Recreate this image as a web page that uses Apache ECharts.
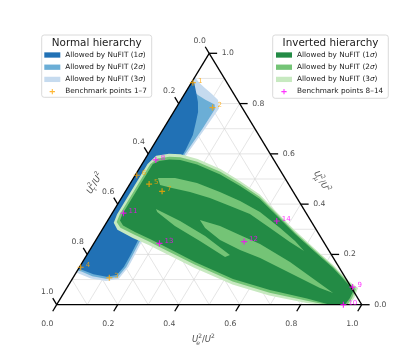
<!DOCTYPE html>
<html>
<head>
<meta charset="utf-8">
<script src="https://cdn.jsdelivr.net/npm/echarts@6/dist/echarts.min.js"></script>
<style>
  html, body { margin: 0; padding: 0; background: #fff; }
  #chart { width: 408px; height: 349px; }
</style>
</head>
<body>
<div id="chart"></div>
<script>
// every pair is [Ue^2/U^2, Umu^2/U^2]; Utau^2/U^2 is what is left
const NH_3SIGMA = [[0,0.905],[0.03,0.88],[0.055,0.862],[0.09,0.838],[0.122,0.814],[0.142,0.78],[0.136,0.7],[0.128,0.6],[0.132,0.5],[0.14,0.4],[0.15,0.3],[0.157,0.2],[0.16,0.15],[0.152,0.103],[0.115,0.094],[0.06,0.104],[0.015,0.122],[0,0.128]];
const NH_2SIGMA = [[0,0.89],[0.03,0.845],[0.046,0.834],[0.08,0.815],[0.12,0.796],[0.13,0.776],[0.128,0.7],[0.121,0.6],[0.125,0.5],[0.133,0.4],[0.143,0.3],[0.15,0.2],[0.153,0.15],[0.145,0.11],[0.11,0.103],[0.06,0.113],[0.015,0.132],[0,0.136]];
const NH_1SIGMA = [[0,0.89],[0.008,0.885],[0.034,0.846],[0.06,0.806],[0.08,0.767],[0.093,0.727],[0.109,0.675],[0.115,0.615],[0.118,0.5],[0.125,0.4],[0.135,0.3],[0.143,0.2],[0.145,0.15],[0.138,0.118],[0.108,0.111],[0.06,0.121],[0.018,0.137],[0,0.142]];

const IH_3SIGMA = [[0.018,0.56],[0.03,0.592],[0.068,0.6],[0.107,0.598],[0.172,0.58],[0.267,0.54],[0.355,0.492],[0.447,0.438],[0.538,0.368],[0.634,0.295],[0.735,0.223],[0.826,0.159],[0.91,0.094],[0.955,0.066],[0.962,0.027],[0.96,0],[0.87,0],[0.816,0.007],[0.678,0.037],[0.536,0.08],[0.377,0.147],[0.227,0.217],[0.183,0.237],[0.117,0.265],[0.05,0.298],[0.024,0.326],[0.018,0.36]];
const IH_2SIGMA = [[0.027,0.56],[0.04,0.582],[0.075,0.589],[0.112,0.587],[0.176,0.569],[0.272,0.529],[0.36,0.482],[0.451,0.429],[0.542,0.361],[0.637,0.288],[0.738,0.217],[0.829,0.153],[0.912,0.088],[0.95,0.062],[0.955,0.027],[0.953,0],[0.885,0],[0.812,0.016],[0.674,0.048],[0.531,0.092],[0.372,0.16],[0.222,0.23],[0.179,0.25],[0.114,0.279],[0.056,0.306],[0.032,0.329],[0.027,0.36]];
const IH_1SIGMA = [[0.035,0.56],[0.05,0.572],[0.08,0.578],[0.117,0.576],[0.181,0.558],[0.277,0.518],[0.365,0.472],[0.456,0.42],[0.546,0.353],[0.641,0.281],[0.742,0.21],[0.832,0.147],[0.914,0.082],[0.945,0.058],[0.948,0.027],[0.945,0],[0.896,0],[0.808,0.025],[0.67,0.058],[0.527,0.102],[0.368,0.17],[0.218,0.241],[0.175,0.261],[0.112,0.289],[0.06,0.315],[0.04,0.335],[0.035,0.36]];
// strips inside the inverted region that are only allowed at 2 sigma
const IH_GAP_UPPER = [[0.08,0.504],[0.136,0.504],[0.218,0.484],[0.311,0.448],[0.395,0.4125],[0.482,0.369],[0.58,0.305],[0.655,0.253],[0.704,0.214],[0.64,0.249],[0.547,0.305],[0.453,0.361],[0.372,0.393],[0.29,0.4245],[0.213,0.448],[0.146,0.464],[0.101,0.476]];
const IH_GAP_LOWER = [[0.301,0.337],[0.379,0.313],[0.462,0.277],[0.546,0.2415],[0.68,0.17],[0.798,0.098],[0.883,0.0465],[0.83,0.066],[0.702,0.126],[0.574,0.186],[0.492,0.218],[0.407,0.257],[0.334,0.305]];
const IH_GAP_THIN = [[0.135,0.381],[0.238,0.333],[0.35,0.273],[0.469,0.198],[0.457,0.19],[0.343,0.253],[0.231,0.313],[0.145,0.369]];

const NH_POINTS = [[0.005,0.883],[0.119,0.784],[0.119,0.107],[0.004,0.149],[0.063,0.48],[0.005,0.515],[0.12,0.451]];
const NH_POINT_LABELS = ['1','2','3','4','5','6','7'];
const IH_POINTS = [[0.037,0.576],[0.935,0.07],[0.94,0],[0.037,0.364],[0.489,0.251],[0.215,0.244],[0.555,0.333]];
const IH_POINT_LABELS = ['8','9','10','11','12','13','14'];

const GRID_STEPS = [0.1,0.2,0.3,0.4,0.5,0.6,0.7,0.8,0.9];
const TICKS = [0,0.2,0.4,0.6,0.8,1];
const TICK_LABELS = ['0.0','0.2','0.4','0.6','0.8','1.0'];

const FONT = 'DejaVu Sans';
const INK = '#1a1a1a';

// ternary -> cartesian position on the hidden grid
function tern(e, mu) { return [e + mu / 2, mu]; }

function area(name, poly, color) {
  return {
    name: name, type: 'custom', clip: false, silent: true,
    itemStyle: { color: color },
    data: [[0, 0]],
    renderItem: function (params, api) {
      return {
        type: 'polygon',
        shape: { points: poly.map(p => api.coord(tern(p[0], p[1]))) },
        style: { fill: color }
      };
    }
  };
}

function segments(segs, color, width, dash) {
  return {
    type: 'custom', clip: false, silent: true, data: segs,
    renderItem: function (params, api) {
      const a = api.coord(tern(api.value(0), api.value(1)));
      const b = api.coord(tern(api.value(2), api.value(3)));
      return {
        type: 'line',
        shape: { x1: a[0], y1: a[1], x2: b[0], y2: b[1] },
        style: { stroke: color, lineWidth: width, lineDash: dash || null }
      };
    }
  };
}

function points(name, pts, labels, color) {
  return {
    name: name, type: 'scatter', clip: false, silent: true,
    symbol: 'path://M4,0H6V4H10V6H6V10H4V6H0V4H4Z', symbolSize: 6,
    itemStyle: { color: color },
    data: pts.map((p, i) => ({ name: labels[i], value: tern(p[0], p[1]) })),
    label: {
      show: true, position: 'right', distance: 2, offset: [0, -2],
      formatter: '{b}', color: color, fontSize: 7, fontFamily: FONT
    }
  };
}

const gridSegs = [];
GRID_STEPS.forEach(v => {
  gridSegs.push([v, 0, v, 1 - v]);
  gridSegs.push([0, v, 1 - v, v]);
  gridSegs.push([1 - v, 0, 0, 1 - v]);
});

const edgeSegs = [[0, 0, 1, 0], [1, 0, 0, 1], [0, 1, 0, 0]];
const TICK_LEN = 0.026;
const tickSegs = [];
TICKS.forEach(v => {
  tickSegs.push([v, 0, v, -TICK_LEN]);
  tickSegs.push([1 - v, v, 1 - v + TICK_LEN, v]);
  tickSegs.push([0, 1 - v, -TICK_LEN, 1 - v + TICK_LEN]);
});

const tickLabelData = [];
TICKS.forEach((v, i) => {
  tickLabelData.push({ name: TICK_LABELS[i], value: tern(v + 0.008, -0.078) });
  tickLabelData.push({ name: TICK_LABELS[i], value: tern(1 - v + 0.061, v) });
  tickLabelData.push({ name: TICK_LABELS[i], value: tern(-0.0556, 1 - v + 0.049) });
});

const titleRich = {
  u: { fontSize: 8.5, fontStyle: 'italic', fontFamily: FONT, color: INK, lineHeight: 13 },
  n: { fontSize: 8.5, fontFamily: FONT, color: INK, lineHeight: 13 },
  sb: { fontSize: 6, fontStyle: 'italic', fontFamily: FONT, color: INK, verticalAlign: 'bottom', width: 0 },
  sp: { fontSize: 6, fontFamily: FONT, color: INK, verticalAlign: 'top' }
};
function axisTitle(sub, pos, rotate) {
  return {
    value: tern(pos[0], pos[1]),
    label: { formatter: '{u|U}{sb|' + sub + '}{sp|2}{n|/}{u|U}{sp|2}', rotate: rotate }
  };
}

const legendRich = {
  t: { fontSize: 7.3, fontFamily: FONT, color: INK },
  s: { fontSize: 7.3, fontFamily: FONT, fontStyle: 'italic', color: INK }
};
const LEGEND_TEXT = {
  NH1: '{t|Allowed by NuFIT (1}{s|σ}{t|)}', NH2: '{t|Allowed by NuFIT (2}{s|σ}{t|)}',
  NH3: '{t|Allowed by NuFIT (3}{s|σ}{t|)}', NHP: '{t|Benchmark points 1–7}',
  IH1: '{t|Allowed by NuFIT (1}{s|σ}{t|)}', IH2: '{t|Allowed by NuFIT (2}{s|σ}{t|)}',
  IH3: '{t|Allowed by NuFIT (3}{s|σ}{t|)}', IHP: '{t|Benchmark points 8–14}'
};
const PLUS = 'path://M4,0H6V4H10V6H6V10H4V6H0V4H4Z';
function legend(left, names) {
  return {
    orient: 'vertical', left: left, top: 50, padding: 0,
    itemWidth: 16, itemHeight: 5.3, itemGap: 2.2, selectedMode: false,
    symbolKeepAspect: true,
    data: names.map((n, i) => ({ name: n, icon: i === 3 ? PLUS : 'rect' })),
    formatter: n => LEGEND_TEXT[n],
    textStyle: { fontSize: 7.3, fontFamily: FONT, color: INK, lineHeight: 10, rich: legendRich }
  };
}

const chart = echarts.init(document.getElementById('chart'));
chart.setOption({
  animation: false,
  grid: { left: 56.7, right: 46.3, top: 53.3, bottom: 44.3, outerBoundsMode: 'none' },
  xAxis: { type: 'value', min: 0, max: 1, show: false },
  yAxis: { type: 'value', min: 0, max: 1, show: false },
  legend: [
    legend(44.3, ['NH1', 'NH2', 'NH3', 'NHP']),
    legend(276, ['IH1', 'IH2', 'IH3', 'IHP'])
  ],
  graphic: [
    { type: 'rect', z: 0, shape: { x: 41.7, y: 35, width: 110, height: 62.3, r: 2.5 },
      style: { fill: 'rgba(255,255,255,0.8)', stroke: '#d0d0d0', lineWidth: 0.8 } },
    { type: 'rect', z: 0, shape: { x: 272.7, y: 35, width: 115.6, height: 63.3, r: 2.5 },
      style: { fill: 'rgba(255,255,255,0.8)', stroke: '#d0d0d0', lineWidth: 0.8 } },
    { type: 'text', z: 10, x: 96.7, y: 43.3,
      style: { text: 'Normal hierarchy', fontSize: 10.4, fontFamily: FONT, fill: INK, align: 'center', verticalAlign: 'middle' } },
    { type: 'text', z: 10, x: 330.5, y: 43.3,
      style: { text: 'Inverted hierarchy', fontSize: 10.4, fontFamily: FONT, fill: INK, align: 'center', verticalAlign: 'middle' } }
  ],
  series: [
    segments(gridSegs, '#d4d4d4', 0.6),
    area('NH3', NH_3SIGMA, '#c6dbef'),
    area('NH2', NH_2SIGMA, '#6baed6'),
    area('NH1', NH_1SIGMA, '#2171b5'),
    area('IH3', IH_3SIGMA, '#c7e9c0'),
    area('IH2', IH_2SIGMA, '#74c476'),
    area('IH1', IH_1SIGMA, '#238b45'),
    area('IHgap1', IH_GAP_UPPER, '#74c476'),
    area('IHgap2', IH_GAP_LOWER, '#74c476'),
    area('IHgap3', IH_GAP_THIN, '#74c476'),
    segments(edgeSegs, '#000', 1.3),
    segments(tickSegs, '#000', 1.3),
    {
      type: 'scatter', clip: false, silent: true, symbolSize: 0,
      data: tickLabelData,
      label: { show: true, position: [0, 0], align: 'center', verticalAlign: 'middle',
        formatter: '{b}', fontSize: 7.7, fontFamily: FONT, color: INK }
    },
    {
      type: 'scatter', clip: false, silent: true, symbolSize: 0,
      data: [
        axisTitle('e', [0.551, -0.14], 0),
        axisTitle('μ', [0.624, 0.489], -58.8),
        axisTitle('τ', [-0.116, 0.483], 58.8)
      ],
      label: { show: true, position: [0, 0], align: 'center', verticalAlign: 'middle', rich: titleRich }
    },
    points('NHP', NH_POINTS, NH_POINT_LABELS, '#ffa500'),
    points('IHP', IH_POINTS, IH_POINT_LABELS, '#ff00ff')
  ]
});
</script>
</body>
</html>
